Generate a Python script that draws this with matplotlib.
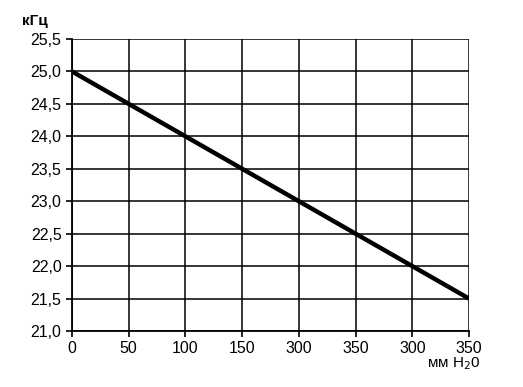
import matplotlib
matplotlib.use("Agg")
import matplotlib.pyplot as plt

# позиции по оси X (подписи как на оригинале)
x_pos = [0, 1, 2, 3, 4, 5, 6, 7]
x_labels = ["0", "50", "100", "150", "300", "350", "300", "350"]
freq_khz = [25.0, 24.5, 24.0, 23.5, 23.0, 22.5, 22.0, 21.5]
y_ticks = [21.0, 21.5, 22.0, 22.5, 23.0, 23.5, 24.0, 24.5, 25.0, 25.5]

plt.rcParams["font.family"] = ["Liberation Sans", "DejaVu Sans"]

fig = plt.figure(figsize=(5.23, 3.87), dpi=100)
ax = fig.add_axes([0.1377, 0.1447, 0.759, 0.7545])

ax.plot(x_pos, freq_khz, color="black", linewidth=3.2, solid_capstyle="butt")

ax.set_xlim(0, 7)
ax.set_ylim(21.0, 25.5)
ax.set_xticks(x_pos)
ax.set_xticklabels(x_labels)
ax.set_yticks(y_ticks)
ax.set_yticklabels([f"{v:.1f}".replace(".", ",") for v in y_ticks])
ax.grid(True, color="black", linewidth=1.1)
for side in ["top", "right"]:
    ax.spines[side].set_visible(False)
for side in ["left", "bottom"]:
    ax.spines[side].set_linewidth(1.3)
ax.tick_params(axis="both", labelsize=11.5, length=4, width=1.2, colors="black")
ax.tick_params(axis="x", pad=3)

fig.text(0.043, 0.945, "кГц", fontsize=11, fontweight="bold", va="center")
fig.text(0.918, 0.06, "мм H$_2$0", fontsize=11, ha="right", va="center")

fig.savefig("out.png", dpi=100)
